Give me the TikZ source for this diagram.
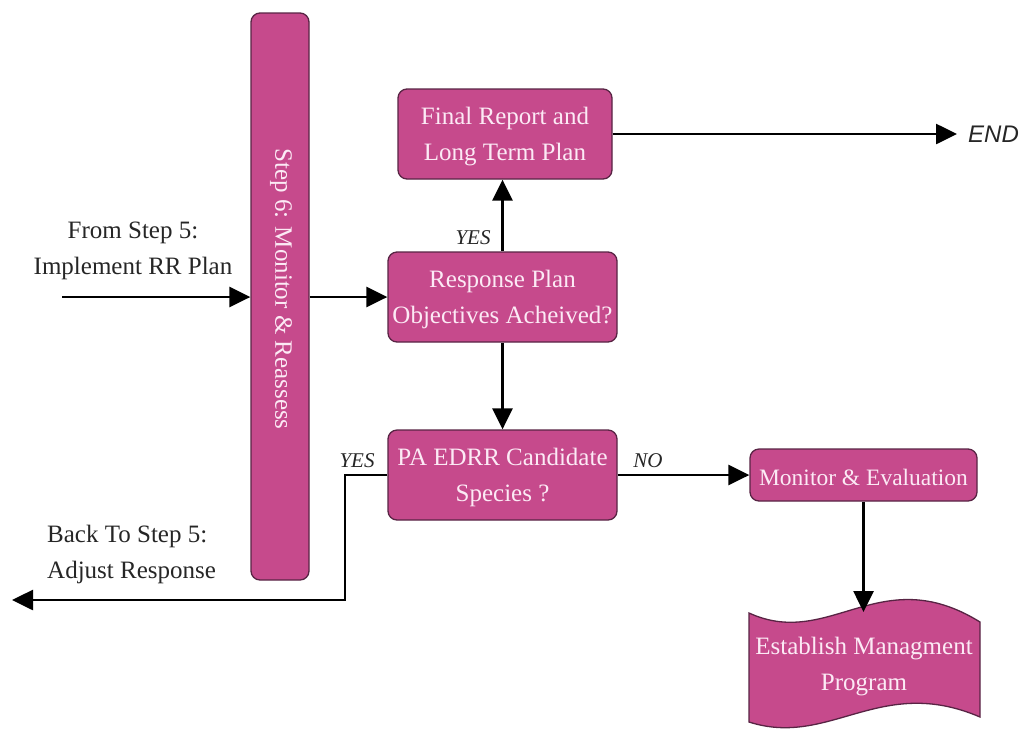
\documentclass[tikz,border=0pt]{standalone}
\usepackage{fontspec}
\setmainfont{Liberation Serif}
\newfontfamily\endfont{Liberation Sans}
\usetikzlibrary{arrows.meta}
\definecolor{boxfill}{RGB}{198,74,140}
\definecolor{boxedge}{RGB}{88,36,68}
\definecolor{boxtext}{RGB}{252,234,245}
\definecolor{labeltext}{RGB}{38,38,38}
\begin{document}
\begin{tikzpicture}[x=1pt,y=-1pt,
  box/.style={draw=boxedge, line width=1.3pt, fill=boxfill, rounded corners=9pt,
    text=boxtext, font=\fontsize{25}{36}\selectfont, align=center, inner sep=0pt},
  boxlabel/.style={text=boxtext, font=\fontsize{25}{36}\selectfont, align=center, inner sep=0pt},
  flow/.style={line width=2.6pt, -{Triangle[length=21pt,width=20pt]}},
  sidetext/.style={text=labeltext, font=\fontsize{25}{36}\selectfont, inner sep=0pt},
  answer/.style={text=labeltext, font=\fontsize{21}{24}\selectfont\itshape, inner sep=0pt}]
\useasboundingbox (0,0) rectangle (1024,729);

% process boxes (shapes), then their texts
\node[box, minimum width=58pt, minimum height=567pt] (step6) at (280,296.5) {};
\node[box, minimum width=214pt, minimum height=90pt] (final) at (505,134) {};
\node[box, minimum width=229pt, minimum height=90pt] (resp) at (502.5,297) {};
\node[box, minimum width=229pt, minimum height=90pt] (pa) at (502.5,475) {};
\node[box, minimum width=227pt, minimum height=52pt] (mon) at (863.5,475) {};

\node[boxlabel, rotate=-90] (step6text) at (281,289) {Step 6: Monitor \& Reassess};
\node[boxlabel] (finaltext) at (505,137) {Final Report and\\Long Term Plan};
\node[boxlabel] (resptext) at (502.5,299) {Response Plan\\Objectives Acheived?};
\node[boxlabel] (patext) at (502.5,477) {PA EDRR Candidate\\Species ?};
\node[boxlabel, font=\fontsize{23.5}{30}\selectfont] (montext) at (863.5,477) {Monitor \& Evaluation};

% wavy document shape
\path[draw=boxedge, line width=1.3pt, fill=boxfill]
  (749,613) .. controls (830,650) and (880,560) .. (980,622)
  -- (980,717) .. controls (880,674) and (830,748) .. (749,722) -- cycle;
\node[boxlabel] (doc) at (864,667) {Establish Managment\\Program};

% outside labels
\node[sidetext, align=center] (fromlbl) at (133,251) {From Step 5:\\Implement RR Plan};
\node[sidetext, align=left, anchor=west] (backlbl) at (47,554) {Back To Step 5:\\Adjust Response};
\node[text=labeltext, font=\fontsize{24}{28}\selectfont\endfont\itshape, anchor=west, inner sep=0pt] (endlbl) at (968,134) {END};
\node[answer] (yes1) at (473,238) {YES};
\node[answer] (yes2) at (357,461) {YES};
\node[answer] (no) at (648,461) {NO};

% connectors
\coordinate (fromstart) at (62,297);
\coordinate (endpt) at (957,134);
\coordinate (bend1) at (345,475);
\coordinate (bend2) at (345,600);
\coordinate (backpt) at (12,600);
\coordinate (doctop) at (863.5,612);

\draw[flow] (fromstart) -- (step6.west |- fromstart);
\draw[flow] (step6.east |- resp.west) -- (resp.west);
\draw[flow] (resp.north) -- (resp.north |- final.south);
\draw[flow] (final.east) -- (endpt);
\draw[flow] (resp.south) -- (pa.north);
\draw[flow] (pa.east) -- (mon.west);
\draw[flow] (pa.west) -- (bend1) -- (bend2) -- (backpt);
\draw[flow] (mon.south) -- (doctop);
\end{tikzpicture}
\end{document}
